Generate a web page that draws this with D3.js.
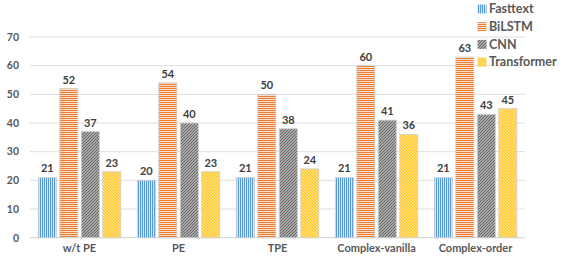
<!DOCTYPE html>
<html><head><meta charset="utf-8">
<script src="https://cdn.jsdelivr.net/npm/d3@7"></script>
<style>body{margin:0;background:#fff}svg{display:block}text{font-family:Lato,"Open Sans",sans-serif;font-weight:bold}</style>
</head><body><svg id="c" width="561" height="260"></svg>
<script>
const categories = ["w/t PE","PE","TPE","Complex-vanilla","Complex-order"];
const seriesNames = ["Fasttext","BiLSTM","CNN","Transformer"];
const fasttext = [21,20,21,21,21];
const bilstm = [52,54,50,60,63];
const cnn = [37,40,38,41,43];
const transformer = [23,23,24,36,45];
const yTicks = [0,10,20,30,40,50,60,70];

const seriesValues = [fasttext,bilstm,cnn,transformer];
const colors = ["#5b9bd5","#ed7d31","#5a5a5a","#ffc000"];
const svg = d3.select("#c");
const defs = svg.append("defs");
function pat(id, color, kind){
  const bg = d3.interpolateRgb(color, "#ffffff")(0.88);
  const diag = kind==="d1"||kind==="d2";
  const P = diag ? 3/Math.SQRT2 : 2;
  const W = diag ? 1.3 : 1.15;
  const p = defs.append("pattern").attr("id",id).attr("patternUnits","userSpaceOnUse")
    .attr("width",P).attr("height",P);
  p.append("rect").attr("width",P).attr("height",P).attr("fill",bg);
  if(kind==="v") p.append("rect").attr("width",W).attr("height",P).attr("fill",color);
  if(kind==="h") p.append("rect").attr("width",P).attr("height",W).attr("fill",color);
  if(kind==="d1"){ p.attr("patternTransform","rotate(45)"); p.append("rect").attr("width",W).attr("height",P).attr("fill",color); }
  if(kind==="d2"){ p.attr("patternTransform","rotate(-45)"); p.append("rect").attr("width",W).attr("height",P).attr("fill",color); }
}
pat("p0",colors[0],"v");
pat("p1",colors[1],"h");
pat("p2",colors[2],"d1");
pat("p3",colors[3],"d2");

const y = d3.scaleLinear().domain([0,70]).range([237.7,37]);
const x0 = d3.scaleBand().domain(categories).range([30,525]);
const x1 = d3.scaleBand().domain(seriesNames).range([8.3,90.8]).paddingInner(0.16);

svg.append("g").selectAll("line").data(yTicks).join("line")
  .attr("x1",30).attr("x2",525).attr("y1",d=>y(d)).attr("y2",d=>y(d))
  .attr("stroke",d=>d===0?"#d0d0d0":"#dedede").attr("stroke-width",1);
svg.append("g").selectAll("text").data(yTicks).join("text")
  .attr("x",19).attr("y",d=>y(d)+3.8).attr("text-anchor","end")
  .attr("font-size",10.5).attr("fill","#595959").text(d=>d);

const g = svg.append("g");
seriesNames.forEach((s,si)=>{
  const vals = seriesValues[si];
  g.append("g").selectAll("rect").data(categories).join("rect")
    .attr("x",(c)=>x0(c)+x1(s)).attr("width",x1.bandwidth())
    .attr("y",(c,i)=>y(vals[i])).attr("height",(c,i)=>y(0)-y(vals[i]))
    .attr("fill",`url(#p${si})`).attr("stroke","#cfcfcf").attr("stroke-width",0.8);
  g.append("g").selectAll("text").data(categories).join("text")
    .attr("x",(c)=>x0(c)+x1(s)+x1.bandwidth()/2).attr("y",(c,i)=>y(vals[i])-5)
    .attr("text-anchor","middle").attr("font-size",11).attr("fill","#404040")
    .text((c,i)=>vals[i]);
});

svg.append("g").selectAll("text").data(categories).join("text")
  .attr("x",c=>x0(c)+x0.bandwidth()/2).attr("y",252)
  .attr("text-anchor","middle").attr("font-size",11).attr("fill","#595959").text(c=>c);

const lg = svg.append("g");
seriesNames.forEach((s,i)=>{
  const yy = 9 + i*17.7;
  lg.append("rect").attr("x",477.5).attr("y",yy-4.5).attr("width",9).attr("height",9).attr("fill",`url(#p${i})`);
  lg.append("text").attr("x",489).attr("y",yy+4.3).attr("font-size",12.5).attr("fill","#595959").text(s);
});
</script></body></html>
